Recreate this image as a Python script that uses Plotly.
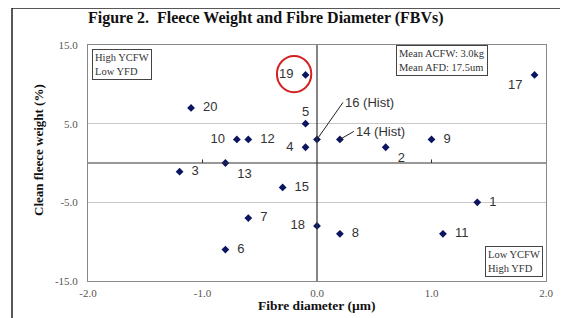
import plotly.graph_objects as go

# Data
sires = ["1", "2", "3", "4", "5", "6", "7", "8", "9", "10",
         "11", "12", "13", "14", "15", "16", "17", "18", "19", "20"]
fibre_diameter = [1.4, 0.6, -1.2, -0.1, -0.1, -0.8, -0.6, 0.2, 1.0, -0.7,
                  1.1, -0.6, -0.8, 0.2, -0.3, 0.0, 1.9, 0.0, -0.1, -1.1]
fleece_weight = [-5.0, 2.0, -1.1, 2.0, 5.0, -11.0, -7.0, -9.0, 3.0, 3.0,
                 -9.0, 3.0, 0.0, 3.0, -3.1, 3.0, 11.2, -8.0, 11.2, 7.0]
label_pos = ["middle right", "bottom right", "middle right", "middle left", "top center",
             "middle right", "middle right", "middle right", "middle right", "middle left",
             "middle right", "middle right", "bottom right", None, "middle right",
             None, "bottom left", "middle left", "middle left", "middle right"]
hist_sires = {"14": (14, -8), "16": (26, -37)}

x_ticks = [-2.0, -1.0, 0.0, 1.0, 2.0]
y_ticks = [-15.0, -5.0, 5.0, 15.0]

serif = "Liberation Serif, Times New Roman, serif"
sans = "Liberation Sans, Arial, sans-serif"

# page body has an 8px margin, so the figure is shifted by OFF on screen
OFF = 8
W, H = 568 - OFF, 318 - OFF
L, T = 88 - OFF, 45 - OFF
R, B = 22, 37
PW, PH = W - L - R, H - T - B


def px(sx):
    """screen x pixel -> paper x"""
    return (sx - OFF - L) / PW


def py(sy):
    """screen y pixel -> paper y"""
    return 1 - (sy - OFF - T) / PH


texts = [("" if s in hist_sires else "  " + s + "  ") for s in sires]
positions = [p if p else "middle right" for p in label_pos]

fig = go.Figure()
fig.add_trace(go.Scatter(
    x=fibre_diameter, y=fleece_weight, mode="markers+text",
    text=texts, textposition=positions,
    textfont=dict(family=sans, size=13, color="#333333"),
    marker=dict(symbol="diamond", size=6, color="#0b1560"),
    cliponaxis=False, showlegend=False,
))

annotations = []
for s, (ax, ay) in hist_sires.items():
    i = sires.index(s)
    annotations.append(dict(
        x=fibre_diameter[i], y=fleece_weight[i], xref="x", yref="y",
        text=s + " (Hist)", showarrow=True, arrowhead=0, arrowwidth=1,
        arrowcolor="#222222", ax=ax, ay=ay, xanchor="left", yanchor="middle",
        font=dict(family=sans, size=13, color="#333333"),
    ))

box_font = dict(family=serif, size=10.5, color="#333333")
annotations += [
    dict(x=px(92), y=py(49), xref="paper", yref="paper",
         xanchor="left", yanchor="top",
         text="High YCFW<br>Low YFD", showarrow=False, align="left", font=box_font,
         bordercolor="#444444", borderwidth=1, borderpad=2, bgcolor="white"),
    dict(x=px(442), y=py(45), xref="paper", yref="paper", xanchor="center", yanchor="top",
         text="Mean ACFW: 3.0kg<br>Mean AFD: 17.5um", showarrow=False, align="left",
         font=box_font, bordercolor="#444444", borderwidth=1, borderpad=2, bgcolor="white"),
    dict(x=px(543), y=py(277), xref="paper", yref="paper",
         xanchor="right", yanchor="bottom",
         text="Low YCFW<br>High YFD", showarrow=False, align="left", font=box_font,
         bordercolor="#444444", borderwidth=1, borderpad=2, bgcolor="white"),
    dict(x=px(38), y=py(150), xref="paper", yref="paper",
         text="<b>Clean fleece weight (%)</b>", textangle=-90, showarrow=False,
         xanchor="center", yanchor="middle",
         font=dict(family=serif, size=13, color="#111111")),
    dict(x=px(317), y=py(305), xref="paper", yref="paper",
         text="<b>Fibre diameter (µm)</b>", showarrow=False,
         xanchor="center", yanchor="middle",
         font=dict(family=serif, size=13.5, color="#111111")),
    dict(x=px(266), y=py(18), xref="paper", yref="paper",
         text="<b>Figure 2.  Fleece Weight and Fibre Diameter (FBVs)</b>", showarrow=False,
         xanchor="center", yanchor="middle",
         font=dict(family=serif, size=16, color="#111111")),
]

shapes = [
    # zero lines
    dict(type="line", xref="x", yref="y", x0=0, x1=0, y0=-15, y1=15,
         line=dict(color="#333333", width=1.2)),
    dict(type="line", xref="x", yref="y", x0=-2, x1=2, y0=0, y1=0,
         line=dict(color="#333333", width=1.2)),
    # red circle around sire 19
    dict(type="circle", xref="x", yref="y", x0=-0.35, x1=-0.05, y0=9.0, y1=13.6,
         line=dict(color="#d42020", width=2)),
    # outer figure border (top and left edges visible)
    dict(type="rect", xref="paper", yref="paper", x0=px(12), x1=px(600),
         y0=py(340), y1=py(8), line=dict(color="#222222", width=1.5), layer="above"),
]
for t in [-1.0, 1.0]:
    shapes.append(dict(type="line", xref="x", yref="y", x0=t, x1=t, y0=0, y1=0.45,
                       line=dict(color="#333333", width=1)))

fig.update_layout(
    width=W, height=H,
    margin=dict(l=L, r=R, t=T, b=B, autoexpand=False),
    paper_bgcolor="white", plot_bgcolor="white",
    xaxis=dict(range=[-2, 2], tickvals=x_ticks, ticktext=[f"{v:.1f}" for v in x_ticks],
               showgrid=False, zeroline=False, showline=True, mirror=True,
               linecolor="#888888", linewidth=1, ticks="", automargin=False,
               ticklabelstandoff=2,
               tickfont=dict(family=serif, size=11, color="#555555")),
    yaxis=dict(range=[-15, 15], tickvals=y_ticks, ticktext=[f"{v:.1f}" for v in y_ticks],
               showgrid=True, gridcolor="#c8c8c8", gridwidth=1, zeroline=False,
               showline=True, mirror=True, linecolor="#888888", linewidth=1, ticks="",
               automargin=False, ticklabelstandoff=7,
               tickfont=dict(family=serif, size=11, color="#555555")),
    annotations=annotations, shapes=shapes,
)

fig.write_html("out.html")
